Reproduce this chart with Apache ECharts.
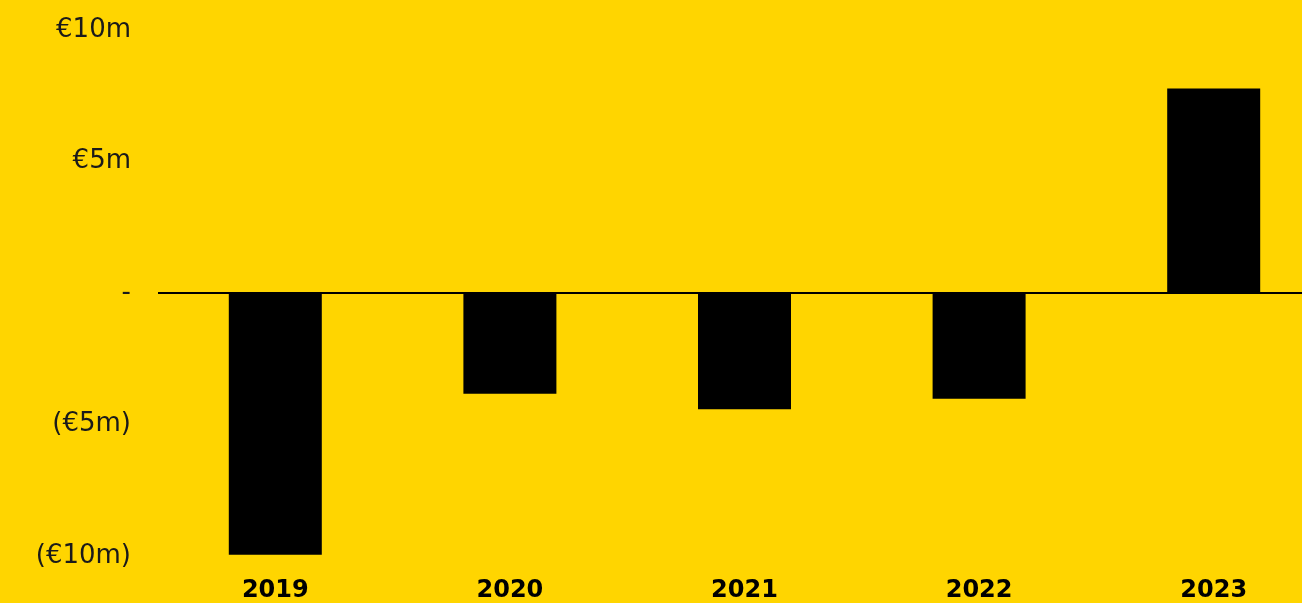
<!DOCTYPE html>
<html>
<head>
<meta charset="utf-8">
<script src="https://cdn.jsdelivr.net/npm/echarts@6/dist/echarts.min.js"></script>
<style>
html,body{margin:0;padding:0;background:#FFD500;overflow:hidden;width:1302px;height:603px;}
#c{width:1331px;height:603px;}
</style>
</head>
<body>
<div id="c"></div>
<script>
const categories = ['2019', '2020', '2021', '2022', '2023'];
const values = [-9.95, -3.83, -4.42, -4.02, 7.78];
const tickLabels = { '10': '€10m', '5': '€5m', '0': '-', '-5': '(€5m)', '-10': '(€10m)' };

const chart = echarts.init(document.getElementById('c'));
chart.setOption({
  backgroundColor: '#FFD500',
  animation: false,
  grid: { left: 158, right: 0, top: 30, bottom: 46, containLabel: false },
  xAxis: {
    type: 'category',
    data: categories,
    axisLine: { show: false, onZero: false },
    axisTick: { show: false },
    axisLabel: {
      margin: 23,
      color: '#000',
      fontFamily: '"DejaVu Sans", sans-serif',
      fontWeight: 'bold',
      fontSize: 24
    }
  },
  yAxis: {
    type: 'value',
    min: -10, max: 10, interval: 5,
    axisLine: { show: false },
    axisTick: { show: false },
    splitLine: { show: false },
    axisLabel: {
      margin: 27,
      color: '#1a1a1a',
      fontFamily: '"DejaVu Sans", sans-serif',
      fontSize: 26,
      formatter: v => tickLabels[String(v)]
    }
  },
  series: [{
    type: 'bar',
    data: values,
    barWidth: 93,
    itemStyle: { color: '#000' },
    markLine: {
      silent: true,
      symbol: 'none',
      label: { show: false },
      lineStyle: { color: '#000', width: 2, type: 'solid' },
      data: [{ yAxis: 0 }]
    }
  }]
});
</script>
</body>
</html>
